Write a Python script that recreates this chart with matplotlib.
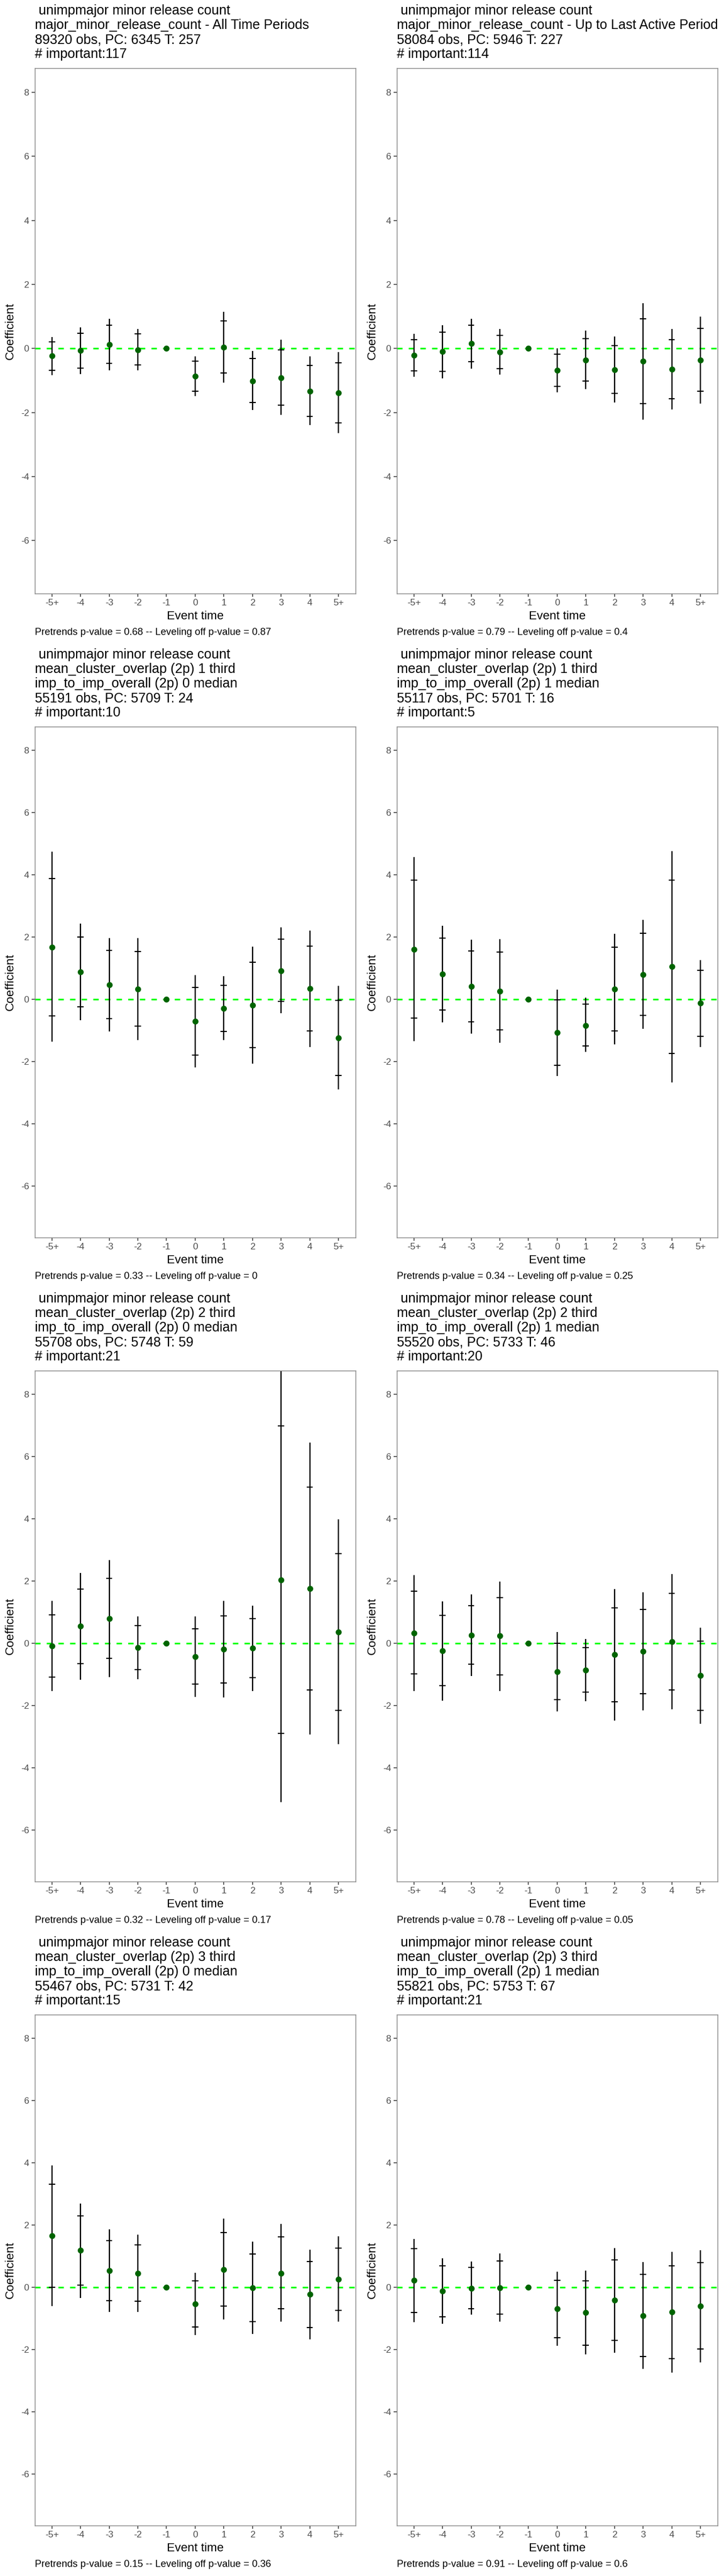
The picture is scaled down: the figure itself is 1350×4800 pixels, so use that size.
import matplotlib
matplotlib.use("Agg")
import matplotlib.pyplot as plt
import numpy as np

plt.rcParams["font.family"] = ["Liberation Sans", "DejaVu Sans"]
plt.rcParams["axes.unicode_minus"] = False

NA = np.nan

EVENT_LABELS = ["-5+", "-4", "-3", "-2", "-1", "0", "1", "2", "3", "4", "5+"]
Y_TICKS = [-6, -4, -2, 0, 2, 4, 6, 8]
Y_LIM = (-7.65, 8.75)

HEADER = " unimpmajor minor release count"
TITLES = [
    [HEADER, "major_minor_release_count - All Time Periods", "89320 obs, PC: 6345 T: 257", "# important:117"],
    [HEADER, "major_minor_release_count - Up to Last Active Period", "58084 obs, PC: 5946 T: 227", "# important:114"],
    [HEADER, "mean_cluster_overlap (2p) 1 third", "imp_to_imp_overall (2p) 0 median", "55191 obs, PC: 5709 T: 24", "# important:10"],
    [HEADER, "mean_cluster_overlap (2p) 1 third", "imp_to_imp_overall (2p) 1 median", "55117 obs, PC: 5701 T: 16", "# important:5"],
    [HEADER, "mean_cluster_overlap (2p) 2 third", "imp_to_imp_overall (2p) 0 median", "55708 obs, PC: 5748 T: 59", "# important:21"],
    [HEADER, "mean_cluster_overlap (2p) 2 third", "imp_to_imp_overall (2p) 1 median", "55520 obs, PC: 5733 T: 46", "# important:20"],
    [HEADER, "mean_cluster_overlap (2p) 3 third", "imp_to_imp_overall (2p) 0 median", "55467 obs, PC: 5731 T: 42", "# important:15"],
    [HEADER, "mean_cluster_overlap (2p) 3 third", "imp_to_imp_overall (2p) 1 median", "55821 obs, PC: 5753 T: 67", "# important:21"],
]
PRETREND_P = ["0.68", "0.79", "0.33", "0.34", "0.32", "0.78", "0.15", "0.91"]
LEVELING_P = ["0.87", "0.4", "0", "0.25", "0.17", "0.05", "0.36", "0.6"]

# estimates, inner band (tick marks) and outer band (line ends), event times -5+ .. 5+
p1_est = [-0.23, -0.07, 0.12, -0.04, 0.0, -0.87, 0.04, -1.01, -0.91, -1.33, -1.38]
p1_in_lo = [-0.68, -0.61, -0.47, -0.51, NA, -1.33, -0.77, -1.68, -1.78, -2.12, -2.32]
p1_in_hi = [0.21, 0.47, 0.72, 0.45, NA, -0.40, 0.86, -0.32, -0.04, -0.53, -0.44]
p1_out_lo = [-0.84, -0.80, -0.68, -0.68, NA, -1.49, -1.06, -1.92, -2.08, -2.40, -2.65]
p1_out_hi = [0.36, 0.66, 0.92, 0.60, NA, -0.25, 1.15, -0.08, 0.27, -0.25, -0.11]

p2_est = [-0.21, -0.10, 0.15, -0.11, 0.0, -0.69, -0.36, -0.66, -0.40, -0.65, -0.36]
p2_in_lo = [-0.70, -0.71, -0.42, -0.63, NA, -1.18, -1.02, -1.41, -1.73, -1.57, -1.34]
p2_in_hi = [0.28, 0.51, 0.72, 0.40, NA, -0.18, 0.31, 0.09, 0.92, 0.27, 0.63]
p2_out_lo = [-0.88, -0.93, -0.64, -0.82, NA, -1.37, -1.27, -1.69, -2.22, -1.91, -1.72]
p2_out_hi = [0.45, 0.73, 0.92, 0.60, NA, 0.0, 0.56, 0.37, 1.41, 0.60, 0.99]

p3_est = [1.67, 0.88, 0.46, 0.33, 0.0, -0.71, -0.29, -0.19, 0.91, 0.34, -1.25]
p3_in_lo = [-0.54, -0.24, -0.63, -0.87, NA, -1.79, -1.03, -1.56, -0.08, -1.02, -2.45]
p3_in_hi = [3.88, 2.00, 1.56, 1.53, NA, 0.37, 0.45, 1.18, 1.92, 1.70, -0.04]
p3_out_lo = [-1.37, -0.68, -1.03, -1.32, NA, -2.20, -1.31, -2.07, -0.45, -1.53, -2.90]
p3_out_hi = [4.73, 2.42, 1.97, 1.97, NA, 0.78, 0.73, 1.69, 2.30, 2.21, 0.42]

p4_est = [1.60, 0.80, 0.41, 0.26, 0.0, -1.08, -0.84, 0.32, 0.79, 1.04, -0.13]
p4_in_lo = [-0.60, -0.35, -0.73, -0.99, NA, -2.12, -1.51, -1.02, -0.52, -1.75, -1.19]
p4_in_hi = [3.82, 1.97, 1.54, 1.52, NA, -0.02, -0.16, 1.67, 2.11, 3.82, 0.92]
p4_out_lo = [-1.34, -0.74, -1.10, -1.40, NA, -2.47, -1.70, -1.45, -0.95, -2.68, -1.54]
p4_out_hi = [4.56, 2.35, 1.91, 1.93, NA, 0.31, 0.05, 2.10, 2.55, 4.76, 1.26]

p5_est = [-0.09, 0.55, 0.79, -0.14, 0.0, -0.43, -0.20, -0.16, 2.03, 1.76, 0.36]
p5_in_lo = [-1.09, -0.65, -0.49, -0.85, NA, -1.32, -1.27, -1.11, -2.90, -1.51, -2.15]
p5_in_hi = [0.91, 1.74, 2.09, 0.56, NA, 0.46, 0.88, 0.79, 6.97, 5.01, 2.88]
p5_out_lo = [-1.54, -1.18, -1.09, -1.15, NA, -1.73, -1.75, -1.53, -5.10, -2.93, -3.25]
p5_out_hi = [1.35, 2.26, 2.66, 0.86, NA, 0.86, 1.35, 1.20, 9.16, 6.44, 3.97]

p6_est = [0.33, -0.24, 0.26, 0.23, 0.0, -0.91, -0.86, -0.37, -0.26, 0.04, -1.04]
p6_in_lo = [-0.98, -1.37, -0.67, -1.02, NA, -1.82, -1.58, -1.88, -1.62, -1.51, -2.15]
p6_in_hi = [1.66, 0.89, 1.20, 1.47, NA, 0.0, -0.14, 1.13, 1.09, 1.60, 0.07]
p6_out_lo = [-1.53, -1.84, -1.05, -1.53, NA, -2.20, -1.87, -2.49, -2.16, -2.13, -2.59]
p6_out_hi = [2.18, 1.34, 1.57, 1.98, NA, 0.36, 0.14, 1.74, 1.64, 2.22, 0.49]

p7_est = [1.65, 1.18, 0.53, 0.45, 0.0, -0.53, 0.57, -0.02, 0.45, -0.23, 0.25]
p7_in_lo = [0.0, 0.07, -0.44, -0.45, NA, -1.27, -0.60, -1.11, -0.69, -1.30, -0.75]
p7_in_hi = [3.31, 2.29, 1.49, 1.36, NA, 0.21, 1.76, 1.07, 1.62, 0.82, 1.25]
p7_out_lo = [-0.60, -0.35, -0.79, -0.79, NA, -1.54, -1.04, -1.51, -1.10, -1.67, -1.10]
p7_out_hi = [3.91, 2.69, 1.85, 1.69, NA, 0.46, 2.20, 1.46, 2.03, 1.21, 1.63]

p8_est = [0.22, -0.13, -0.03, -0.02, 0.0, -0.70, -0.82, -0.42, -0.91, -0.79, -0.60]
p8_in_lo = [-0.81, -0.95, -0.69, -0.86, NA, -1.63, -1.86, -1.71, -2.23, -2.29, -1.99]
p8_in_hi = [1.24, 0.69, 0.64, 0.84, NA, 0.22, 0.20, 0.88, 0.41, 0.69, 0.79]
p8_out_lo = [-1.12, -1.18, -0.88, -1.10, NA, -1.89, -2.16, -2.11, -2.63, -2.74, -2.41]
p8_out_hi = [1.55, 0.93, 0.82, 1.08, NA, 0.49, 0.53, 1.26, 0.80, 1.13, 1.19]

PANELS = [
    (p1_est, p1_in_lo, p1_in_hi, p1_out_lo, p1_out_hi),
    (p2_est, p2_in_lo, p2_in_hi, p2_out_lo, p2_out_hi),
    (p3_est, p3_in_lo, p3_in_hi, p3_out_lo, p3_out_hi),
    (p4_est, p4_in_lo, p4_in_hi, p4_out_lo, p4_out_hi),
    (p5_est, p5_in_lo, p5_in_hi, p5_out_lo, p5_out_hi),
    (p6_est, p6_in_lo, p6_in_hi, p6_out_lo, p6_out_hi),
    (p7_est, p7_in_lo, p7_in_hi, p7_out_lo, p7_out_hi),
    (p8_est, p8_in_lo, p8_in_hi, p8_out_lo, p8_out_hi),
]

W, H = 1350, 4800
CELL_W, CELL_H = 675, 1200
AX_LEFT, AX_RIGHT, AX_BOTTOM = 64.6, 663.0, 1105.7
LINE_STEP = 26.9


def fx(px):
    return px / W


def fy(py):
    return 1 - py / H


def draw_panel(fig, idx):
    row, col = divmod(idx, 2)
    x0, y0 = col * CELL_W, row * CELL_H
    title = TITLES[idx]
    ax_top = 20.5 + LINE_STEP * (len(title) - 1) + 26.0

    ax = fig.add_axes([fx(x0 + AX_LEFT), fy(y0 + AX_BOTTOM),
                       (AX_RIGHT - AX_LEFT) / W, (AX_BOTTOM - ax_top) / H])

    est, in_lo, in_hi, out_lo, out_hi = [np.array(a, dtype=float) for a in PANELS[idx]]
    x = np.arange(1, len(EVENT_LABELS) + 1)

    ax.axhline(0, color="#00FF00", lw=2.2, dashes=(3.3, 3.8), zorder=1)
    ax.vlines(x, out_lo, out_hi, color="black", lw=1.7, zorder=2)
    ax.hlines(in_lo, x - 0.11, x + 0.11, color="black", lw=1.5, zorder=2)
    ax.hlines(in_hi, x - 0.11, x + 0.11, color="black", lw=1.5, zorder=2)
    ax.plot(x, est, "o", color="#006400", ms=7, mec="#006400", zorder=3)

    ax.set_xlim(0.4, len(EVENT_LABELS) + 0.6)
    ax.set_ylim(*Y_LIM)
    ax.set_xticks(x, EVENT_LABELS)
    ax.set_yticks(Y_TICKS, [str(t) for t in Y_TICKS])
    ax.tick_params(length=4, width=1.1, color="#333333", labelcolor="#4D4D4D",
                   labelsize=12.5, pad=3.5)
    for sp in ax.spines.values():
        sp.set_color("#808080")
        sp.set_linewidth(1.0)

    for i, line in enumerate(title):
        fig.text(fx(x0 + AX_LEFT), fy(y0 + 20.5 + LINE_STEP * i), line,
                 fontsize=18, ha="left", va="center", color="black")

    fig.text(fx(x0 + 19.4), fy(y0 + (ax_top + AX_BOTTOM) / 2), "Coefficient",
             fontsize=16.2, rotation=90, ha="center", va="center")
    fig.text(fx(x0 + (AX_LEFT + AX_RIGHT) / 2), fy(y0 + 1148.3), "Event time",
             fontsize=16.1, ha="center", va="center")
    fig.text(fx(x0 + AX_LEFT), fy(y0 + 1178.3),
             f"Pretrends p-value = {PRETREND_P[idx]} -- Leveling off p-value = {LEVELING_P[idx]}",
             fontsize=13.2, ha="left", va="center")


def main():
    fig = plt.figure(figsize=(W / 100, H / 100), dpi=100)
    fig.patch.set_facecolor("white")
    for idx in range(len(PANELS)):
        draw_panel(fig, idx)
    fig.savefig("out.png", dpi=100)
    plt.close(fig)


if __name__ == "__main__":
    main()
